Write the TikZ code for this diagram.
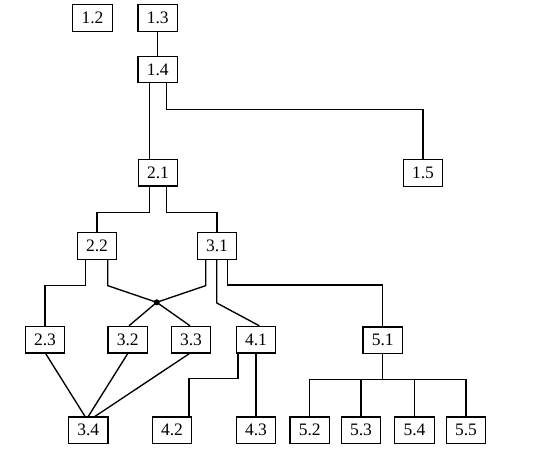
\documentclass[tikz,border=0pt]{standalone}
\usepackage{fontspec}
\setmainfont{Liberation Serif}
\begin{document}
\begin{tikzpicture}[x=1pt,y=-1pt,line width=1.35pt,
  box/.style={draw,minimum width=39.5pt,minimum height=26.5pt,inner sep=0pt,font=\fontsize{17.5}{19}\selectfont},
  dotnode/.style={circle,fill,inner sep=0pt,minimum size=6pt}]
\useasboundingbox (0,0) rectangle (556,451);
\node[box] (n12) at (92.5,18) {1.2};
\node[box] (n13) at (157.7,18) {1.3};
\node[box] (n14) at (157.7,69.5) {1.4};
\node[box] (n15) at (423,173) {1.5};
\node[box] (n21) at (158,172.7) {2.1};
\node[box] (n22) at (97,246) {2.2};
\node[box] (n31) at (217,246) {3.1};
\node[box] (n23) at (45,339.7) {2.3};
\node[box] (n32) at (127.7,339.7) {3.2};
\node[box] (n33) at (191,339.7) {3.3};
\node[box] (n41) at (256,339.7) {4.1};
\node[box] (n34) at (88.3,430.3) {3.4};
\node[box] (n42) at (172,430.3) {4.2};
\node[box] (n43) at (256,430.3) {4.3};
\node[box] (n51) at (382.8,340.3) {5.1};
\node[box] (n52) at (309.7,430.3) {5.2};
\node[box] (n53) at (361,430.3) {5.3};
\node[box] (n54) at (414.5,430.3) {5.4};
\node[box] (n55) at (466,430.3) {5.5};
\node[dotnode] (dot) at (156.7,302.3) {};

\draw (n13) -- (n14);
\draw ([xshift=-8.5pt]n14.south) -- ([xshift=-8.5pt]n14.south |- n21.north);
\draw ([xshift=9pt]n14.south) -- ++(0,26) -| (n15.north);
\draw ([xshift=-8.7pt]n21.south) -- ++(0,25.7) -| (n22.north);
\draw ([xshift=8.7pt]n21.south) -- ++(0,25.7) -| (n31.north);
\draw ([xshift=-11.3pt]n22.south) -- ++(0,25.7) -| (n23.north);
\draw ([xshift=10.7pt]n22.south) -- ++(0,25.7) -- (dot.center);
\draw ([xshift=-11.3pt]n31.south) -- ++(0,25.7) -- (dot.center);
\draw (dot.center) -- ([xshift=1.3pt]n32.north);
\draw (dot.center) -- ([xshift=-1pt]n33.north);
\draw ([xshift=-0.3pt]n31.south) -- ++(0,43) -- ([xshift=3.3pt]n41.north);
\draw ([xshift=10.3pt]n31.south) -- ++(0,25) -| (n51.north);
\draw ([xshift=0.7pt]n23.south) -- ([xshift=-3.3pt]n34.north);
\draw (n32.south) -- (n34.north);
\draw ([xshift=-1.7pt]n33.south) -- ([xshift=6.7pt]n34.north);
\draw ([xshift=-18pt]n41.south) -- ++(0,25) -| ([xshift=17pt]n42.north);
\draw (n41.south) -- (n43.north);
\draw (n51.south) -- ++(0,25) -| (n52.north);
\draw (n51.south) -- ++(0,25) -| (n53.north);
\draw (n51.south) -- ++(0,25) -| (n54.north);
\draw (n51.south) -- ++(0,25) -| (n55.north);
\end{tikzpicture}
\end{document}
